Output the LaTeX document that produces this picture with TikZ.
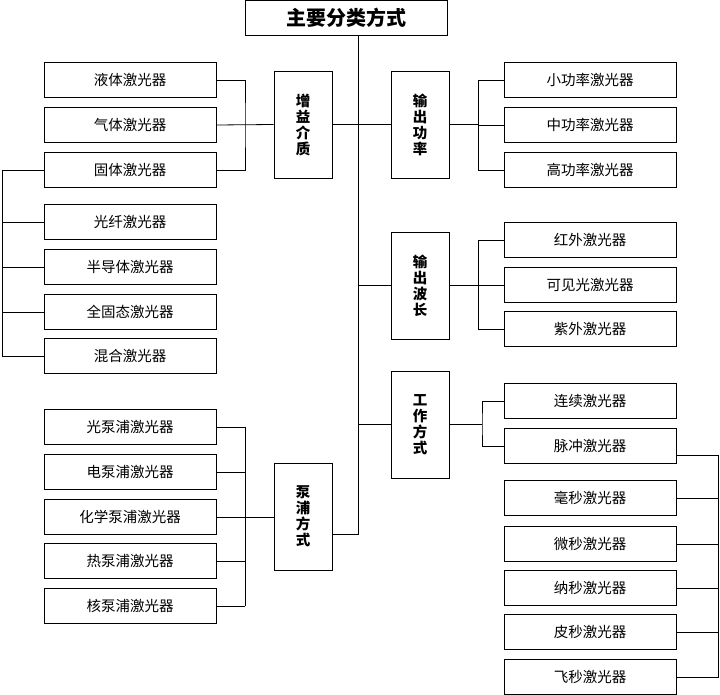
\documentclass[tikz,border=0pt]{standalone}
\usepackage{fontspec}
\newfontfamily\cjk{Noto Sans CJK SC}
\begin{document}
\begin{tikzpicture}[x=1pt,y=-1pt,
  leaf/.style={draw,line width=0.8pt,minimum width=172pt,minimum height=35pt,inner sep=0pt,font=\cjk\fontsize{14.5}{17}\selectfont},
  cat/.style={draw,line width=0.8pt,minimum width=58pt,minimum height=107pt,inner sep=0pt,align=center,font=\cjk\bfseries\fontsize{14.5}{16}\selectfont},
  link/.style={line width=0.8pt}]
\useasboundingbox (0,0) rectangle (720,695);
% root
\node [draw,line width=0.8pt,minimum width=202pt,minimum height=35pt,font=\cjk\bfseries\fontsize{20}{23}\selectfont] (root) at (346,17.5) {主要分类方式};
% categories
\node [cat] (gain) at (303,124.5) {增\\益\\介\\质};
\node [cat] (power) at (420,124.5) {输\\出\\功\\率};
\node [cat] (wave) at (420,285.5) {输\\出\\波\\长};
\node [cat] (mode) at (420,424.5) {工\\作\\方\\式};
\node [cat] (pump) at (303,516.5) {泵\\浦\\方\\式};
% left leaves
\node [leaf] (liquid) at (130,80) {液体激光器};
\node [leaf] (gas) at (130,125) {气体激光器};
\node [leaf] (solid) at (130,170) {固体激光器};
\node [leaf] (fiber) at (130,222) {光纤激光器};
\node [leaf] (semi) at (130,267) {半导体激光器};
\node [leaf] (allsolid) at (130,312) {全固态激光器};
\node [leaf] (mixed) at (130,356) {混合激光器};
\node [leaf] (optp) at (130,427) {光泵浦激光器};
\node [leaf] (elep) at (130,472) {电泵浦激光器};
\node [leaf] (chemp) at (130,517) {化学泵浦激光器};
\node [leaf] (heatp) at (130,561) {热泵浦激光器};
\node [leaf] (nucp) at (130,606) {核泵浦激光器};
% right leaves
\node [leaf] (lowp) at (590,80) {小功率激光器};
\node [leaf] (midp) at (590,125) {中功率激光器};
\node [leaf] (highp) at (590,170) {高功率激光器};
\node [leaf] (ir) at (590,240) {红外激光器};
\node [leaf] (vis) at (590,285) {可见光激光器};
\node [leaf] (uv) at (590,329) {紫外激光器};
\node [leaf] (cw) at (590,401) {连续激光器};
\node [leaf] (pulse) at (590,446) {脉冲激光器};
\node [leaf] (ms) at (590,498) {毫秒激光器};
\node [leaf] (us) at (590,544) {微秒激光器};
\node [leaf] (ns) at (590,588) {纳秒激光器};
\node [leaf] (ps) at (590,632) {皮秒激光器};
\node [leaf] (fs) at (590,677) {飞秒激光器};
% trunk
\coordinate (top) at (358,35);
\coordinate (spine) at (358,534);
\draw [link] (top) -- (spine) -- (pump.east |- spine);
\draw [link] (gain.east) -- (power.west);
\draw [link] (358,285.5) -- (wave.west);
\draw [link] (358,424.5) -- (mode.west);
% gain medium
\draw [link] (liquid.east) -| (245,125) |- (solid.east);
\draw [link] (gas.east) -- (gain.west);
\foreach \n in {solid,fiber,semi,allsolid,mixed}
  \draw [link] (\n.west) -- (2,0 |- \n.west);
\draw [link] (2,0 |- solid.west) -- (2,0 |- mixed.west);
% pump
\foreach \n in {optp,elep,chemp,heatp,nucp}
  \draw [link] (\n.east) -- (245,0 |- \n.east);
\draw [link] (245,0 |- optp.east) -- (245,0 |- nucp.east);
\draw [link] (chemp.east) -- (pump.west |- chemp.east);
% power
\foreach \n in {lowp,midp,highp}
  \draw [link] (\n.west) -- (478,0 |- \n.west);
\draw [link] (478,0 |- lowp.west) -- (478,0 |- highp.west);
\draw [link] (power.east) -- (478,124.5);
% wavelength
\foreach \n in {ir,vis,uv}
  \draw [link] (\n.west) -- (478,0 |- \n.west);
\draw [link] (478,0 |- ir.west) -- (478,0 |- uv.west);
\draw [link] (wave.east) -- (478,285.5);
% mode
\draw [link] (cw.west) -| (482,424.5) |- (pulse.west);
\draw [link] (mode.east) -- (482,424.5);
% pulse
\draw [link] ([yshift=-9pt]pulse.east) -| (718,677) -- (fs.east);
\foreach \n in {ms,us,ns,ps}
  \draw [link] (\n.east) -- (718,0 |- \n.east);
\end{tikzpicture}
\end{document}
